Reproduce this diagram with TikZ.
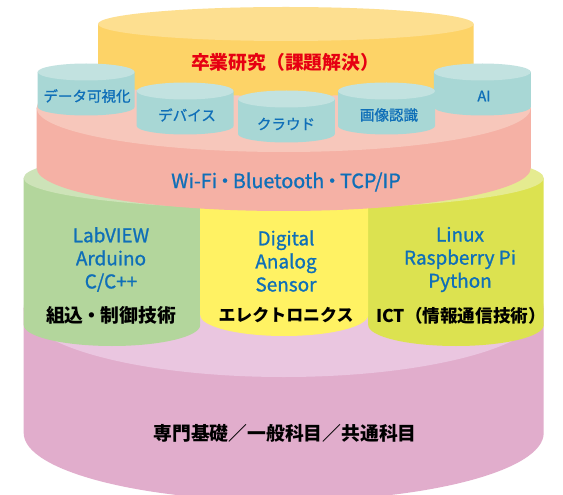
\documentclass[tikz,border=0pt]{standalone}
\usepackage{fontspec}
\setmainfont{Noto Sans CJK JP}[FakeBold=1.1]
\newfontfamily\strongbase{Noto Sans CJK JP}
\newcommand{\strongfont}{\strongbase\bfseries}
\definecolor{baseBody}{HTML}{E1ADCC}
\definecolor{baseTop}{HTML}{EAC6E0}
\definecolor{greenBody}{HTML}{B3D69C}
\definecolor{greenTop}{HTML}{CDE3B8}
\definecolor{limeBody}{HTML}{DCE250}
\definecolor{limeTop}{HTML}{E5EB90}
\definecolor{yellowBody}{HTML}{FFF263}
\definecolor{netBody}{HTML}{F5B1A5}
\definecolor{netTop}{HTML}{F7C7BB}
\definecolor{goldBody}{HTML}{FDD367}
\definecolor{goldTop}{HTML}{FDDF90}
\definecolor{tealBody}{HTML}{A8D7D5}
\definecolor{tealTop}{HTML}{C2E2E0}
\definecolor{labelBlue}{HTML}{0F6FB8}
\definecolor{labelRed}{HTML}{E60012}
% \cylbody{x1}{x2}{ytop}{ybot}{rybot}{colour}: straight sides with rounded bottom
\newcommand{\cylbody}[6]{%
  \fill[#6] (#1,#3) -- (#1,#4)
    arc[start angle=180,end angle=0,x radius={(#2-#1)/2},y radius=#5]
    -- (#2,#3) -- cycle;}
\newcommand{\cyltop}[5]{%
  \fill[#5] ({(#1+#2)/2},#3) ellipse[x radius={(#2-#1)/2},y radius=#4];}
\newcommand{\smallcyl}[3]{%
  \cylbody{#1}{#2}{#3}{#3+35}{8.5}{tealBody}
  \cyltop{#1}{#2}{#3}{8.5}{tealTop}}
\newcommand{\tightdot}[1]{\hspace{#1}・\hspace{#1}}
\tikzset{
  blue label/.style={text=labelBlue,align=center,font=\fontsize{14.2}{17.3}\selectfont,inner sep=0pt},
  small label/.style={text=labelBlue,font=\fontsize{10.9}{13}\selectfont,inner sep=0pt},
  black label/.style={text=black,font=\strongfont\fontsize{14.1}{16}\selectfont,inner sep=0pt},
  red label/.style={text=labelRed,font=\strongfont\fontsize{14.1}{16}\selectfont,inner sep=0pt},
}
\begin{document}
\begin{tikzpicture}[x=0.75pt,y=-0.75pt]
\path[use as bounding box,clip] (0,0) rectangle (563,495);
\fill[white] (0,0) rectangle (563,495);
% base
\cylbody{23.7}{543.7}{308}{433}{68}{baseBody}
\cyltop{23.7}{543.7}{308}{69}{baseTop}
% three segments
\cylbody{23.7}{200.2}{178}{325}{21}{greenBody}
\cylbody{368.2}{543.7}{178}{325}{21}{limeBody}
\begin{scope}
\clip (0,140) rectangle (283.7,215);
\cyltop{23.7}{543.7}{178}{31}{greenTop}
\end{scope}
\begin{scope}
\clip (283.7,140) rectangle (563,215);
\cyltop{23.7}{543.7}{178}{31}{limeTop}
\end{scope}
\cylbody{200.2}{368.2}{190}{315}{21}{yellowBody}
% network cylinder
\cylbody{36.6}{530.8}{108}{168}{43}{netBody}
\cyltop{36.6}{530.8}{108}{44}{netTop}
% gold cylinder
\cylbody{98}{473.7}{24}{80}{16}{goldBody}
\cyltop{98}{473.7}{24}{17}{goldTop}
% small cylinders
\smallcyl{433.9}{530.8}{72}
\smallcyl{37.7}{134.6}{72}
\smallcyl{136.7}{233.6}{91}
\smallcyl{338}{435}{91}
\smallcyl{238}{334.8}{99}
% labels
\node[red label] (grad) at (285,62) {卒業研究（課題解決）};
\node[small label] (viz) at (87,96) {データ可視化};
\node[small label] (dev) at (187,115) {デバイス};
\node[small label] (cloud) at (286,124) {クラウド};
\node[small label] (img) at (389,115) {画像認識};
\node[small label] (ai) at (484,96) {AI};
\node[blue label,font=\fontsize{14.8}{17}\selectfont] (net) at (286,182) {Wi-Fi\tightdot{-0.1em}Bluetooth\tightdot{-0.1em}TCP/IP};
\node[blue label] (emb) at (111,259.5) {LabVIEW\\Arduino\\C/C++};
\node[blue label] (ana) at (286,261) {Digital\\Analog\\Sensor};
\node[blue label] (ict) at (460,259.5) {Linux\\Raspberry Pi\\Python};
\node[black label] (embj) at (111,315) {組込\tightdot{-0.05em}制御技術};
\node[black label,font=\strongfont\fontsize{12.7}{15}\selectfont] (elec) at (286,315) {エレクトロニクス};
\node[black label,font=\strongfont\fontsize{13.2}{15}\selectfont] (ictj) at (461,316) {ICT（情報通信技術）};
\node[black label] (basej) at (285,433) {専門基礎／一般科目／共通科目};
\end{tikzpicture}
\end{document}
